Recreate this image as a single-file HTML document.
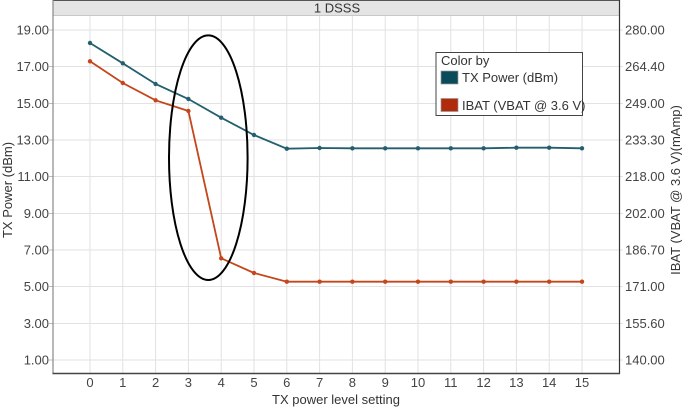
<!DOCTYPE html>
<html><head><meta charset="utf-8"><style>
html,body{margin:0;padding:0;background:#fff;}
svg{display:block;font-family:"Liberation Sans",Arial,sans-serif;}
</style></head><body>
<svg width="682" height="409" viewBox="0 0 682 409" xmlns="http://www.w3.org/2000/svg">
<rect x="0" y="0" width="682" height="409" fill="#fff"/>
<!-- header band -->
<rect x="53" y="0.5" width="566.5" height="15" fill="#e4e4e4"/>
<line x1="53" y1="15.5" x2="619.5" y2="15.5" stroke="#c8c8c8" stroke-width="1"/>
<line x1="53" y1="0.5" x2="619.5" y2="0.5" stroke="#555" stroke-width="1"/>
<text x="337" y="12.5" font-size="13" fill="#333" text-anchor="middle">1 DSSS</text>
<!-- grid -->
<g stroke="#e2e2e2" stroke-width="1">
<line x1="53" y1="30" x2="623" y2="30"/>
<line x1="53" y1="66.5" x2="623" y2="66.5"/>
<line x1="53" y1="103.5" x2="623" y2="103.5"/>
<line x1="53" y1="140" x2="623" y2="140"/>
<line x1="53" y1="176.5" x2="623" y2="176.5"/>
<line x1="53" y1="213.5" x2="623" y2="213.5"/>
<line x1="53" y1="250" x2="623" y2="250"/>
<line x1="53" y1="286.5" x2="623" y2="286.5"/>
<line x1="53" y1="323.5" x2="623" y2="323.5"/>
<line x1="53" y1="360" x2="623" y2="360"/>
<line x1="90" y1="16" x2="90" y2="373"/>
<line x1="122.8" y1="16" x2="122.8" y2="373"/>
<line x1="155.6" y1="16" x2="155.6" y2="373"/>
<line x1="188.4" y1="16" x2="188.4" y2="373"/>
<line x1="221.2" y1="16" x2="221.2" y2="373"/>
<line x1="254" y1="16" x2="254" y2="373"/>
<line x1="286.8" y1="16" x2="286.8" y2="373"/>
<line x1="319.6" y1="16" x2="319.6" y2="373"/>
<line x1="352.4" y1="16" x2="352.4" y2="373"/>
<line x1="385.2" y1="16" x2="385.2" y2="373"/>
<line x1="418" y1="16" x2="418" y2="373"/>
<line x1="450.8" y1="16" x2="450.8" y2="373"/>
<line x1="483.6" y1="16" x2="483.6" y2="373"/>
<line x1="516.4" y1="16" x2="516.4" y2="373"/>
<line x1="549.2" y1="16" x2="549.2" y2="373"/>
<line x1="582" y1="16" x2="582" y2="373"/>
</g>
<g stroke="#bbb" stroke-width="1">
<line x1="49" y1="30" x2="53" y2="30"/>
<line x1="49" y1="66.5" x2="53" y2="66.5"/>
<line x1="49" y1="103.5" x2="53" y2="103.5"/>
<line x1="49" y1="140" x2="53" y2="140"/>
<line x1="49" y1="176.5" x2="53" y2="176.5"/>
<line x1="49" y1="213.5" x2="53" y2="213.5"/>
<line x1="49" y1="250" x2="53" y2="250"/>
<line x1="49" y1="286.5" x2="53" y2="286.5"/>
<line x1="49" y1="323.5" x2="53" y2="323.5"/>
<line x1="49" y1="360" x2="53" y2="360"/>
</g>
<!-- axes frame -->
<line x1="53" y1="0" x2="53" y2="374" stroke="#888" stroke-width="1.2"/>
<line x1="619.5" y1="0" x2="619.5" y2="374" stroke="#333" stroke-width="1.2"/>
<line x1="52.5" y1="373.5" x2="620" y2="373.5" stroke="#444" stroke-width="1.5"/>
<!-- left ticks labels -->
<g font-size="13" fill="#444" text-anchor="end">
<text x="49" y="34.5">19.00</text>
<text x="49" y="71">17.00</text>
<text x="49" y="108">15.00</text>
<text x="49" y="144.5">13.00</text>
<text x="49" y="181">11.00</text>
<text x="49" y="218">9.00</text>
<text x="49" y="254.5">7.00</text>
<text x="49" y="291">5.00</text>
<text x="49" y="328">3.00</text>
<text x="49" y="364.5">1.00</text>
</g>
<g font-size="13" fill="#444" text-anchor="start">
<text x="625" y="34.5">280.00</text>
<text x="625" y="71">264.40</text>
<text x="625" y="108">249.00</text>
<text x="625" y="144.5">233.30</text>
<text x="625" y="181">218.00</text>
<text x="625" y="218">202.00</text>
<text x="625" y="254.5">186.70</text>
<text x="625" y="291">171.00</text>
<text x="625" y="328">155.60</text>
<text x="625" y="364.5">140.00</text>
</g>
<g font-size="13" fill="#444" text-anchor="middle">
<text x="90" y="387">0</text>
<text x="122.8" y="387">1</text>
<text x="155.6" y="387">2</text>
<text x="188.4" y="387">3</text>
<text x="221.2" y="387">4</text>
<text x="254" y="387">5</text>
<text x="286.8" y="387">6</text>
<text x="319.6" y="387">7</text>
<text x="352.4" y="387">8</text>
<text x="385.2" y="387">9</text>
<text x="418" y="387">10</text>
<text x="450.8" y="387">11</text>
<text x="483.6" y="387">12</text>
<text x="516.4" y="387">13</text>
<text x="549.2" y="387">14</text>
<text x="582" y="387">15</text>
</g>
<text x="336" y="404" font-size="13" fill="#333" text-anchor="middle">TX power level setting</text>
<text transform="translate(12,190) rotate(-90)" font-size="13" fill="#333" text-anchor="middle">TX Power (dBm)</text>
<text transform="translate(680,190) rotate(-90)" font-size="13" fill="#333" text-anchor="middle">IBAT (VBAT @ 3.6 V)(mAmp)</text>
<!-- series -->
<polyline fill="none" stroke="#c4461a" stroke-width="1.8" points="90,61.3 122.8,83 155.6,100.3 188.4,111 221.2,258.3 254,273 286.8,281.7 319.6,281.7 352.4,281.7 385.2,281.7 418,281.7 450.8,281.7 483.6,281.7 516.4,281.7 549.2,281.7 582,281.7"/>
<g fill="#c4461a">
<circle cx="90" cy="61.3" r="2.2"/><circle cx="122.8" cy="83" r="2.2"/><circle cx="155.6" cy="100.3" r="2.2"/><circle cx="188.4" cy="111" r="2.2"/><circle cx="221.2" cy="258.3" r="2.2"/><circle cx="254" cy="273" r="2.2"/><circle cx="286.8" cy="281.7" r="2.2"/><circle cx="319.6" cy="281.7" r="2.2"/><circle cx="352.4" cy="281.7" r="2.2"/><circle cx="385.2" cy="281.7" r="2.2"/><circle cx="418" cy="281.7" r="2.2"/><circle cx="450.8" cy="281.7" r="2.2"/><circle cx="483.6" cy="281.7" r="2.2"/><circle cx="516.4" cy="281.7" r="2.2"/><circle cx="549.2" cy="281.7" r="2.2"/><circle cx="582" cy="281.7" r="2.2"/>
</g>
<polyline fill="none" stroke="#245f6e" stroke-width="1.8" points="90,43 122.8,63.3 155.6,84 188.4,99 221.2,117.7 254,135 286.8,148.7 319.6,148 352.4,148.3 385.2,148.3 418,148.3 450.8,148.3 483.6,148.3 516.4,147.7 549.2,147.7 582,148.3"/>
<g fill="#245f6e">
<circle cx="90" cy="43" r="2.2"/><circle cx="122.8" cy="63.3" r="2.2"/><circle cx="155.6" cy="84" r="2.2"/><circle cx="188.4" cy="99" r="2.2"/><circle cx="221.2" cy="117.7" r="2.2"/><circle cx="254" cy="135" r="2.2"/><circle cx="286.8" cy="148.7" r="2.2"/><circle cx="319.6" cy="148" r="2.2"/><circle cx="352.4" cy="148.3" r="2.2"/><circle cx="385.2" cy="148.3" r="2.2"/><circle cx="418" cy="148.3" r="2.2"/><circle cx="450.8" cy="148.3" r="2.2"/><circle cx="483.6" cy="148.3" r="2.2"/><circle cx="516.4" cy="147.7" r="2.2"/><circle cx="549.2" cy="147.7" r="2.2"/><circle cx="582" cy="148.3" r="2.2"/>
</g>
<!-- ellipse -->
<ellipse cx="208.3" cy="157.7" rx="39.3" ry="122.3" fill="none" stroke="#000" stroke-width="2"/>
<!-- legend -->
<rect x="436" y="52.5" width="146.5" height="63" fill="#fff" stroke="#444" stroke-width="1"/>
<text x="441" y="65" font-size="13" fill="#333">Color by</text>
<rect x="441" y="71" width="17" height="13" fill="#0b4a5a" stroke="#999" stroke-width="0.7"/>
<text x="462" y="82" font-size="13" fill="#333">TX Power (dBm)</text>
<rect x="441" y="98.5" width="17" height="13" fill="#b02a0c" stroke="#999" stroke-width="0.7"/>
<text x="462" y="110" font-size="13" fill="#333">IBAT (VBAT @ 3.6 V)</text>
</svg>
</body></html>
